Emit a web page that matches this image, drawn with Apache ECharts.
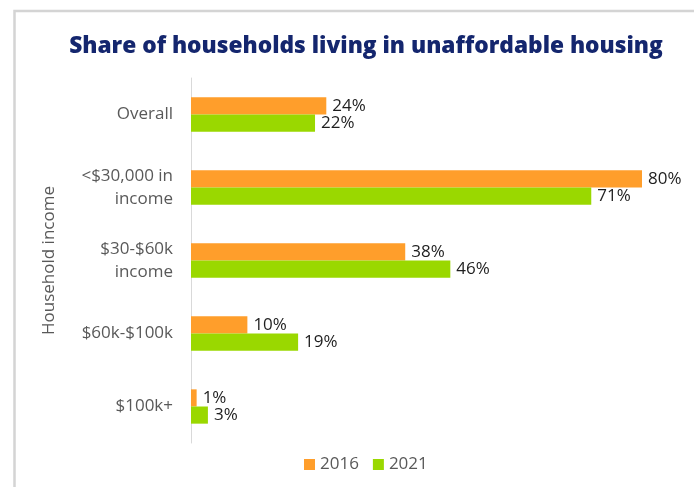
<!DOCTYPE html>
<html>
<head>
<meta charset="utf-8">
<script src="https://cdn.jsdelivr.net/npm/echarts@6/dist/echarts.min.js"></script>
<style>
  html, body { margin: 0; padding: 0; background: #fff; }
  #chart { width: 694px; height: 487px; }
</style>
</head>
<body>
<div id="chart"></div>
<script>
// data
const categories = ["Overall", "<$30,000 in\nincome", "$30-$60k\nincome", "$60k-$100k", "$100k+"];
const years = ["2016", "2021"];
const values2016 = [24, 80, 38, 10, 1];
const values2021 = [22, 71, 46, 19, 3];

const FONT = "Open Sans";
const chart = echarts.init(document.getElementById("chart"));

const labelStyle = {
  show: true,
  position: "right",
  distance: 6,
  color: "#1e1e1e",
  fontSize: 17,
  fontFamily: FONT,
  formatter: (p) => p.value + "%",
};

const option = {
  animation: false,
  title: {
    text: "Share of households living in unaffordable housing",
    left: 361,
    top: 30,
    textAlign: "center",
    textStyle: {
      color: "#14266e",
      fontSize: 22.7,
      fontWeight: 800,
      fontFamily: FONT,
    },
  },
  graphic: [
    {
      type: "rect",
      shape: { x: 14.5, y: 11, width: 800, height: 600 },
      style: { fill: "none", stroke: "#d4d4d4", lineWidth: 2.5 },
      silent: true,
    },
  ],
  legend: {
    bottom: 9,
    left: 299,
    itemWidth: 11,
    itemHeight: 11,
    itemGap: 14,
    icon: "rect",
    textStyle: { color: "#595959", fontSize: 17, fontFamily: FONT },
    data: years,
  },
  grid: { left: 191, top: 78, width: 451, height: 365 },
  xAxis: {
    type: "value",
    min: 0,
    max: 80,
    show: false,
    splitLine: { show: false },
  },
  yAxis: {
    type: "category",
    inverse: true,
    data: categories,
    name: "Household income",
    nameLocation: "middle",
    nameGap: 133,
    nameTextStyle: { color: "#595959", fontSize: 17, fontFamily: FONT },
    axisLine: { lineStyle: { color: "#d9d9d9", width: 1 } },
    axisTick: { show: false },
    axisLabel: {
      color: "#595959",
      fontSize: 17,
      fontFamily: FONT,
      lineHeight: 23,
      margin: 18,
      align: "right",
    },
  },
  series: [
    {
      name: years[0],
      type: "bar",
      data: values2016,
      barGap: "0%",
      barCategoryGap: "53%",
      itemStyle: { color: "#ff9e2b" },
      label: labelStyle,
    },
    {
      name: years[1],
      type: "bar",
      data: values2021,
      itemStyle: { color: "#9ad800" },
      label: labelStyle,
    },
  ],
};

chart.setOption(option);
</script>
</body>
</html>
